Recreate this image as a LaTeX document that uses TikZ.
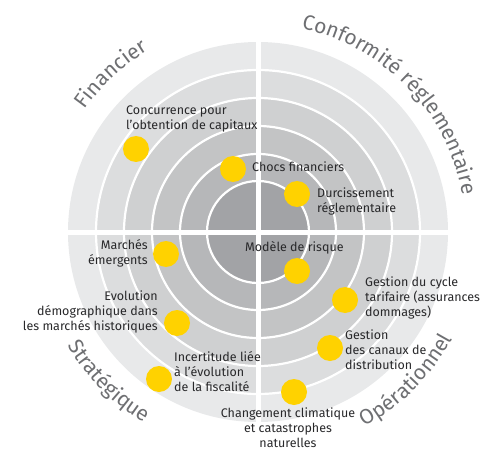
\documentclass[tikz,border=0pt]{standalone}
\usepackage{fontspec}
\setmainfont{Fira Sans}
\usetikzlibrary{decorations.text}
\definecolor{ringA}{RGB}{232,233,234}
\definecolor{ringB}{RGB}{220,221,222}
\definecolor{ringC}{RGB}{207,208,209}
\definecolor{ringD}{RGB}{195,196,197}
\definecolor{ringE}{RGB}{182,183,185}
\definecolor{ringF}{RGB}{162,163,166}
\definecolor{eyyellow}{RGB}{255,210,0}
\definecolor{labelgray}{RGB}{40,40,42}
\definecolor{titlegray}{RGB}{110,111,114}
\newcommand\titlefont{\fontsize{21}{21}\selectfont}
\begin{document}
\begin{tikzpicture}[x=1pt,y=1pt,
  dot/.style={circle, fill=eyyellow, minimum size=26pt, inner sep=0pt},
  lbl/.style={font=\fontsize{12.5}{15}\selectfont, text=labelgray, inner sep=0pt},
  ringline/.style={white, line width=2.2pt},
  divider/.style={white, line width=5pt},
  curved/.style={decorate, decoration={text along path, text align=center, text color=titlegray, text={|\titlefont|#1}}}]
\useasboundingbox (-258,-220) rectangle (244,232);
% rings
\fill[ringA] (0,0) circle[radius=190];
\fill[ringB] (0,0) circle[radius=162];
\fill[ringC] (0,0) circle[radius=134];
\fill[ringD] (0,0) circle[radius=106];
\fill[ringE] (0,0) circle[radius=78];
\fill[ringF] (0,0) circle[radius=51];
\foreach \r in {162,134,106,78,51} \draw[ringline] (0,0) circle[radius=\r];
\draw[divider] (0,-191) -- (0,191);
\draw[divider] (-191,0) -- (191,0);
% curved titles
\path[curved=Financier] (163:212) arc[start angle=163, end angle=103, radius=212];
\path[curved=Conformité réglementaire] (94:208) arc[start angle=94, end angle=-6, radius=208];
\path[curved=Stratégique] (185:222) arc[start angle=185, end angle=265, radius=222];
\path[curved=Opérationnel] (275:222) arc[start angle=275, end angle=355, radius=222];
% dots
\node[dot] (d1) at (-122,83) {};
\node[dot] (d2) at (-25,63) {};
\node[dot] (d3) at (39,38) {};
\node[dot] (d4) at (-92,-22) {};
\node[dot] (d5) at (-81,-91) {};
\node[dot] (d6) at (-99,-147) {};
\node[dot] (d7) at (39,-39) {};
\node[dot] (d8) at (87,-68) {};
\node[dot] (d9) at (72,-116) {};
\node[dot] (d10) at (36,-160) {};
% labels
\node[lbl, anchor=west, align=left] (l1) at (-132,113) {Concurrence pour\\l'obtention de capitaux};
\node[lbl, anchor=west] (l2) at (-6,65) {Chocs financiers};
\node[lbl, anchor=west, align=left] (l3) at (59,30.5) {Durcissement\\réglementaire};
\node[lbl, anchor=east, align=right] (l4) at (-110,-21.5) {Marchés\\émergents};
\node[lbl, anchor=east, align=right] (l5) at (-100,-80) {Evolution\\démographique dans\\les marchés historiques};
\node[lbl, anchor=west, align=left] (l6) at (-84,-140) {Incertitude liée\\à l’évolution\\de la fiscalité};
\node[lbl, anchor=west] (l7) at (-13,-16) {Modèle de risque};
\node[lbl, anchor=west, align=left] (l8) at (107,-66) {Gestion du cycle\\tarifaire (assurances\\dommages)};
\node[lbl, anchor=west, align=left] (l9) at (87,-118) {Gestion\\des canaux de\\distribution};
\node[lbl, align=center] (l10) at (30,-196) {Changement climatique\\et catastrophes\\naturelles};
\end{tikzpicture}
\end{document}
